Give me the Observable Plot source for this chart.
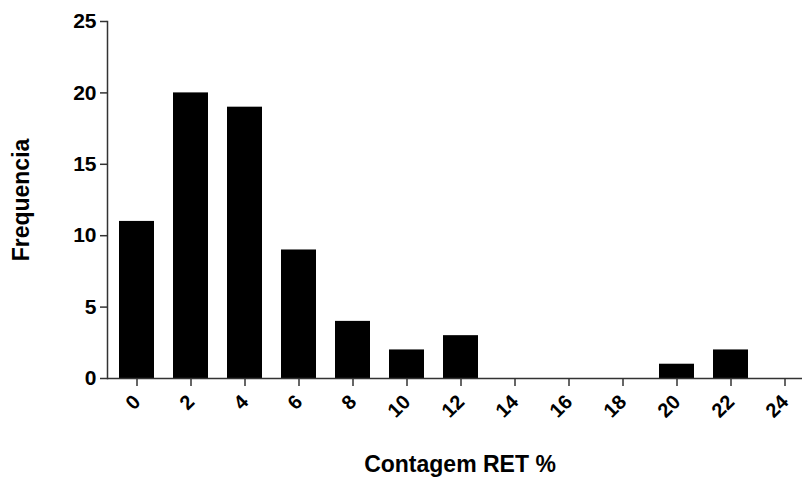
<!DOCTYPE html>
<html>
<head>
<meta charset="utf-8">
<script src="https://cdn.jsdelivr.net/npm/d3@7"></script>
<script src="https://cdn.jsdelivr.net/npm/@observablehq/plot@0.6"></script>
<style>
  html, body { margin: 0; padding: 0; background: white; }
</style>
</head>
<body>
<div id="chart"></div>
<script>
const categories = [0, 2, 4, 6, 8, 10, 12, 14, 16, 18, 20, 22, 24];
const frequencies = [11, 20, 19, 9, 4, 2, 3, 0, 0, 0, 1, 2, 0];
const yTicks = [0, 5, 10, 15, 20, 25];
const xTitle = "Contagem RET %";
const yTitle = "Frequencia";

const data = categories.map((c, i) => ({c, f: frequencies[i]}));
const axisColor = "#333";

const chart = Plot.plot({
  width: 802,
  height: 477,
  marginLeft: 107,
  marginRight: 0,
  marginTop: 21,
  marginBottom: 99,
  style: {fontFamily: "'Liberation Sans', Arial, sans-serif", fontWeight: "bold", background: "white", color: "black"},
  x: {type: "band", domain: categories, range: [107, 813], paddingInner: 0.36, paddingOuter: 0.18},
  y: {domain: [0, 25]},
  marks: [
    Plot.barY(data, {x: "c", y: "f", fill: "black"}),
    Plot.ruleY([0], {stroke: axisColor, strokeWidth: 1.5}),
    Plot.frame({anchor: "left", stroke: axisColor, strokeWidth: 1.5}),
    Plot.axisY({ticks: yTicks, tickSize: 7, tickPadding: 4, fontSize: 21, label: null, stroke: axisColor, strokeWidth: 1.5}),
    Plot.axisX({tickSize: 8, tickPadding: 12, dx: 0, tickRotate: -45, fontSize: 20, label: null, stroke: axisColor, strokeWidth: 1.5}),
    Plot.text([yTitle], {frameAnchor: "left", dx: -86, rotate: -90, fontSize: 23, fontWeight: "bold", textAnchor: "middle", lineAnchor: "middle", fill: "black"}),
    Plot.text([xTitle], {frameAnchor: "bottom", dx: 5, dy: 86, fontSize: 23, fontWeight: "bold", textAnchor: "middle", lineAnchor: "middle", fill: "black"})
  ]
});
document.getElementById("chart").appendChild(chart);
</script>
</body>
</html>
